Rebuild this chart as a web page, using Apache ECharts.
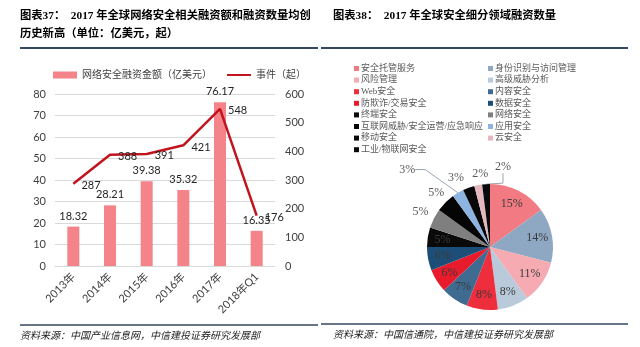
<!DOCTYPE html>
<html>
<head>
<meta charset="utf-8">
<script src="https://cdn.jsdelivr.net/npm/echarts@6/dist/echarts.min.js"></script>
<style>
    html, body { margin: 0; padding: 0; background: #fff; }
    #chart { width: 640px; height: 347px; }
</style>
</head>
<body>
<div id="chart"></div>
<script>
    // 图表37 数据
    var years = ['2013年', '2014年', '2015年', '2016年', '2017年', '2018年Q1'];
    var amount = [18.32, 28.21, 39.38, 35.32, 76.17, 16.35];
    var events = [287, 388, 391, 421, 548, 176];
    var leftTicks = [0, 80, 10];
    var rightTicks = [0, 600, 100];

    // 图表38 数据
    var segNames = ['安全托管服务', '身份识别与访问管理', '风险管理', '高级威胁分析', 'Web安全', '内容安全',
        '防欺诈/交易安全', '数据安全', '终端安全', '网络安全', '互联网威胁/安全运营/应急响应', '应用安全',
        '移动安全', '云安全', '工业/物联网安全'];
    var segShare = [15, 14, 11, 8, 8, 7, 6, 6, 5, 5, 5, 3, 3, 2, 2];

    var segColors = ['#F27A82', '#8EA8C3', '#F6AAB1', '#B9CADB', '#EE2E3D', '#3F6B91',
        '#E81B2C', '#1C4E78', '#0A0A0A', '#7F7F7F', '#050505', '#8DB3E0',
        '#080808', '#E5B8C0', '#0A0A0A'];

    var sansFont = 'Lato, "Noto Sans CJK SC", sans-serif';
    var serifFont = '"Liberation Serif", "Noto Sans CJK SC", serif';

    var pieCenter = [490, 247];
    var pieR = 63;
    // 标签离圆心的距离与偏移
    var labelR = [48, 48, 48, 48, 48, 48, 48, 48, 48, 78, 76, 90, 74, 74, 80];
    var labelDx = [0, 0, 0, 0, 0, 0, 0, 0, 0, 0, 0, -37, -9, 4, 18];
    var outsideLine = {11: true, 14: true};

    var total = segShare.reduce(function (a, b) { return a + b; }, 0);

    function pieLabelPos(params) {
        var i = params.dataIndex;
        var before = 0;
        for (var k = 0; k < i; k++) before += segShare[k];
        var a = (before + segShare[i] / 2) / total * Math.PI * 2;
        return {
            x: pieCenter[0] + labelR[i] * Math.sin(a) + labelDx[i],
            y: pieCenter[1] - labelR[i] * Math.cos(a),
            align: 'center',
            verticalAlign: 'middle',
            hideOverlap: false,
            moveOverlap: null
        };
    }

    var el = document.getElementById('chart');
    var myChart = echarts.init(el);

    var pieData = segNames.map(function (n, i) {
        var item = {name: n, value: segShare[i], itemStyle: {color: segColors[i]}};
        if (i >= 9) {
            item.label = {color: '#595959'};
        }
        if (outsideLine[i]) {
            item.label.position = 'outside';
            item.labelLine = {show: true, length: 10, length2: 10, lineStyle: {color: '#9aa6b2', width: 1}};
        }
        return item;
    });

    var option = {
        backgroundColor: '#fff',
        animation: false,
        graphic: [
            {type: 'text', left: 20, top: 10, style: {text: '图表37：  2017 年全球网络安全相关融资额和融资数量均创', font: 'bold 11.3px ' + serifFont, fill: '#000'}},
            {type: 'text', left: 20, top: 28, style: {text: '历史新高（单位：亿美元，起）', font: 'bold 11.3px ' + serifFont, fill: '#000'}},
            {type: 'text', left: 333, top: 10, style: {text: '图表38：  2017 年全球安全细分领域融资数量', font: 'bold 11.3px ' + serifFont, fill: '#000'}},
            {type: 'line', shape: {x1: 20, y1: 48, x2: 318, y2: 48}, style: {stroke: '#34495e', lineWidth: 2}},
            {type: 'line', shape: {x1: 321, y1: 48, x2: 628, y2: 48}, style: {stroke: '#34495e', lineWidth: 2}},
            {type: 'line', shape: {x1: 20, y1: 325, x2: 318, y2: 325}, style: {stroke: '#34495e', lineWidth: 1.5}},
            {type: 'line', shape: {x1: 321, y1: 324, x2: 628, y2: 324}, style: {stroke: '#34495e', lineWidth: 1.5}},
            {type: 'text', left: 20, top: 331, style: {text: '资料来源：中国产业信息网，中信建投证券研究发展部', font: 'italic 10px ' + serifFont, fill: '#222'}},
            {type: 'text', left: 333, top: 330, style: {text: '资料来源：中国信通院，中信建投证券研究发展部', font: 'italic 10px ' + serifFont, fill: '#222'}}
        ],
        legend: [
            {
                left: 48, top: 65,
                itemWidth: 24, itemHeight: 7, itemGap: 14,
                textStyle: {fontSize: 10, color: '#404040', fontFamily: sansFont},
                data: [
                    {name: '网络安全融资金额（亿美元）', icon: 'rect'},
                    {name: '事件（起）', itemStyle: {opacity: 0}}
                ]
            },
            {
                orient: 'vertical', left: 349, top: 59,
                itemWidth: 5, itemHeight: 5, itemGap: 2.6, icon: 'rect',
                textStyle: {fontSize: 9, color: '#595959', fontFamily: serifFont, padding: [0, 0, 0, -3]},
                data: segNames.filter(function (n, i) { return i % 2 === 0; })
            },
            {
                orient: 'vertical', left: 483, top: 59,
                itemWidth: 5, itemHeight: 5, itemGap: 2.6, icon: 'rect',
                textStyle: {fontSize: 9, color: '#595959', fontFamily: serifFont, padding: [0, 0, 0, -3]},
                data: segNames.filter(function (n, i) { return i % 2 === 1; })
            }
        ],
        grid: {left: 55, right: 365, top: 94, bottom: 81},
        xAxis: {
            type: 'category',
            data: years,
            axisLine: {show: true, lineStyle: {color: '#d9d9d9'}},
            axisTick: {show: false},
            axisLabel: {rotate: 45, fontSize: 11, color: '#404040', fontFamily: sansFont, margin: 9}
        },
        yAxis: [
            {
                type: 'value', min: leftTicks[0], max: leftTicks[1], interval: leftTicks[2],
                axisLine: {show: false}, axisTick: {show: false},
                axisLabel: {fontSize: 11, color: '#404040', fontFamily: sansFont, margin: 9},
                splitLine: {lineStyle: {color: '#d9d9d9'}}
            },
            {
                type: 'value', min: rightTicks[0], max: rightTicks[1], interval: rightTicks[2],
                axisLine: {show: false}, axisTick: {show: false},
                axisLabel: {fontSize: 11, color: '#404040', fontFamily: sansFont, margin: 10},
                splitLine: {show: false}
            }
        ],
        series: [
            {
                name: '网络安全融资金额（亿美元）',
                type: 'bar',
                data: amount,
                barWidth: 12,
                itemStyle: {color: '#F4838A'},
                label: {show: true, position: 'top', distance: 5, fontSize: 11, color: '#262626', fontFamily: sansFont}
            },
            {
                name: '事件（起）',
                type: 'line',
                yAxisIndex: 1,
                data: events,
                symbol: 'circle',
                symbolSize: 0.1,
                lineStyle: {color: '#C2141F', width: 2.5},
                itemStyle: {color: '#C2141F'},
                label: {show: true, position: 'right', distance: 8, offset: [0, 2], fontSize: 11, color: '#262626', fontFamily: sansFont}
            },
            {
                name: '细分领域',
                type: 'pie',
                center: pieCenter,
                radius: pieR,
                startAngle: 90,
                silent: true,
                avoidLabelOverlap: false,
                minShowLabelAngle: 0,
                label: {show: true, position: 'inside', formatter: '{c}%', fontSize: 12, color: '#3a3a3a', fontFamily: serifFont},
                labelLine: {show: false},
                labelLayout: pieLabelPos,
                data: pieData
            }
        ]
    };
    myChart.setOption(option);
</script>
</body>
</html>
